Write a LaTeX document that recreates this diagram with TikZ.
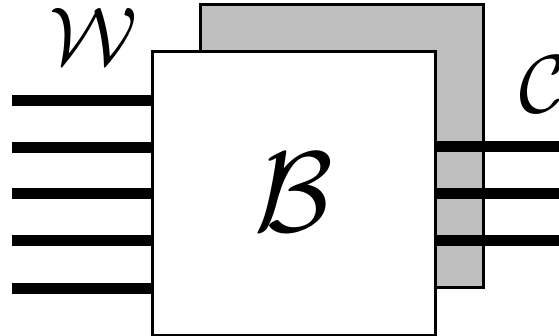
\documentclass[tikz,border=0pt]{standalone}
\tikzset{
  blok/.style={draw=black, line width=3pt, minimum width=283pt, minimum height=283pt, inner sep=0pt, outer sep=0pt},
  draad/.style={line width=11pt},
  lbl/.style={inner sep=0pt, font=\Huge},
}

\begin{document}
\begin{tikzpicture}[x=1pt,y=-1pt]
  \useasboundingbox (0,0) rectangle (559,336);
  \node[blok, fill=gray!50, anchor=north west] (achter) at (200,5) {};
  \node[blok, fill=white, anchor=north west] (voor) at (152,52) {};
  % draden links en rechts
  \foreach \y [count=\i] in {101,148,194,241,289}{
    \coordinate (in\i) at (12,\y);
    \draw[draad] (in\i) -- (in\i -| voor.west);
  }
  \foreach \y [count=\i] in {147,194,241}{
    \coordinate (uit\i) at (559,\y);
    \draw[draad] (uit\i -| voor.east) -- (uit\i);
  }
  \node[lbl, scale=3.3] (w) at (93,36) {$\mathcal{W}$};
  \node[lbl, scale=3.3, anchor=west] (c) at (519,84) {$\mathcal{C}$};
  \node[lbl, scale=4.6] (b) at (294,192) {$\mathcal{B}$};
\end{tikzpicture}
\end{document}
